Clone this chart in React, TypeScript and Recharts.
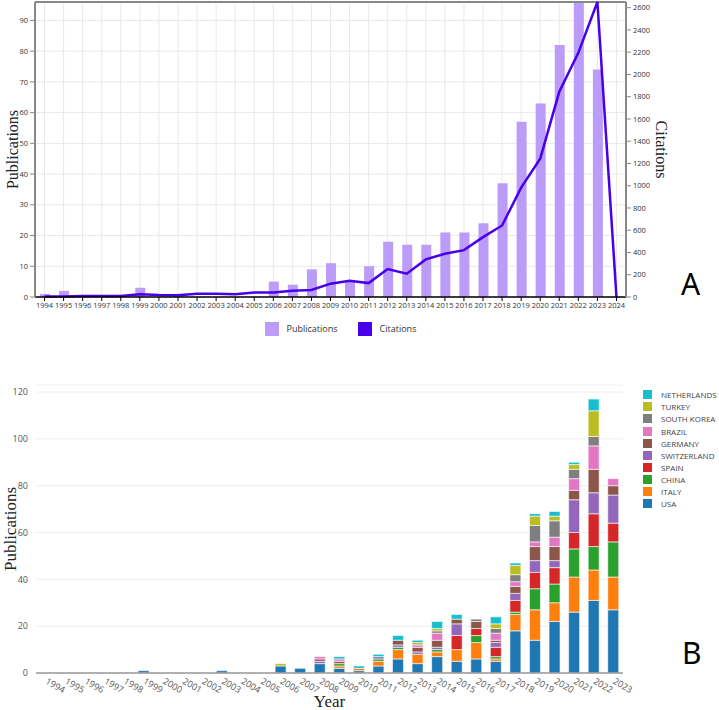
import {
  ComposedChart,
  BarChart,
  Bar,
  Line,
  XAxis,
  YAxis,
  CartesianGrid,
  Legend,
  ReferenceLine,
} from 'recharts';

// Panel A: yearly publications and citations
const yearsA = [
  '1994', '1995', '1996', '1997', '1998', '1999', '2000', '2001', '2002', '2003', '2004',
  '2005', '2006', '2007', '2008', '2009', '2010', '2011', '2012', '2013', '2014', '2015',
  '2016', '2017', '2018', '2019', '2020', '2021', '2022', '2023', '2024',
];
const publications = [
  1, 2, 0, 0, 0, 3, 0, 1, 0, 0, 0, 0, 5, 4, 9, 11, 5, 10, 18, 17, 17, 21, 21, 24, 37, 57, 63,
  82, 96, 74, 0,
];
const citations = [
  5, 5, 10, 10, 10, 25, 18, 15, 30, 30, 25, 40, 40, 57, 63, 120, 147, 125, 251, 209, 338, 389,
  421, 538, 643, 983, 1243, 1844, 2194, 2651, 0,
];
const pubTicks = [0, 10, 20, 30, 40, 50, 60, 70, 80, 90];
const citeTicks = [0, 200, 400, 600, 800, 1000, 1200, 1400, 1600, 1800, 2000, 2200, 2400, 2600];

// Panel B: publications per country, stacked
const yearsB = [
  '1994', '1995', '1996', '1997', '1998', '1999', '2000', '2001', '2002', '2003', '2004',
  '2005', '2006', '2007', '2008', '2009', '2010', '2011', '2012', '2013', '2014', '2015',
  '2016', '2017', '2018', '2019', '2020', '2021', '2022', '2023',
];
const usa = [0, 0, 0, 0, 0, 1, 0, 0, 0, 1, 0, 0, 3, 2, 4, 2, 1, 3, 6, 4, 7, 5, 6, 5, 18, 14, 22, 26, 31, 27];
const italy = [0, 0, 0, 0, 0, 0, 0, 0, 0, 0, 0, 0, 0, 0, 0, 1, 1, 2, 4, 4, 2, 5, 7, 1, 7, 13, 8, 15, 13, 14];
const china = [0, 0, 0, 0, 0, 0, 0, 0, 0, 0, 0, 0, 0, 0, 0, 1, 0, 1, 1, 0, 1, 0, 3, 1, 1, 9, 8, 12, 10, 15];
const spain = [0, 0, 0, 0, 0, 0, 0, 0, 0, 0, 0, 0, 0, 0, 0, 0, 0, 0, 0, 0, 0, 6, 3, 4, 5, 7, 7, 7, 14, 8];
const switzerland = [0, 0, 0, 0, 0, 0, 0, 0, 0, 0, 0, 0, 0, 0, 1, 0, 0, 1, 1, 1, 1, 5, 0, 2, 3, 5, 3, 14, 9, 12];
const germany = [0, 0, 0, 0, 0, 0, 0, 0, 0, 0, 0, 0, 0, 0, 1, 1, 0, 0, 2, 2, 3, 2, 3, 1, 3, 6, 6, 4, 10, 4];
const brazil = [0, 0, 0, 0, 0, 0, 0, 0, 0, 0, 0, 0, 0, 0, 1, 1, 0, 0, 0, 1, 3, 0, 0, 3, 2, 2, 4, 5, 10, 3];
const southKorea = [0, 0, 0, 0, 0, 0, 0, 0, 0, 0, 0, 0, 0, 0, 0, 0, 0, 0, 0, 0, 1, 0, 1, 2, 3, 7, 7, 4, 4, 0];
const turkey = [0, 0, 0, 0, 0, 0, 0, 0, 0, 0, 0, 0, 1, 0, 0, 0, 0, 0, 0, 1, 1, 0, 0, 2, 4, 4, 2, 2, 11, 0];
const netherlands = [0, 0, 0, 0, 0, 0, 0, 0, 0, 0, 0, 0, 0, 0, 0, 1, 1, 1, 2, 1, 3, 2, 0, 3, 1, 1, 2, 1, 5, 0];
const countryTicks = [0, 20, 40, 60, 80, 100, 120];

const countries = [
  { key: 'USA', values: usa, color: '#1f77b4' },
  { key: 'ITALY', values: italy, color: '#ff7f0e' },
  { key: 'CHINA', values: china, color: '#2ca02c' },
  { key: 'SPAIN', values: spain, color: '#d62728' },
  { key: 'SWITZERLAND', values: switzerland, color: '#9467bd' },
  { key: 'GERMANY', values: germany, color: '#8c564b' },
  { key: 'BRAZIL', values: brazil, color: '#e377c2' },
  { key: 'SOUTH KOREA', values: southKorea, color: '#7f7f7f' },
  { key: 'TURKEY', values: turkey, color: '#bcbd22' },
  { key: 'NETHERLANDS', values: netherlands, color: '#17becf' },
];

const dataA = yearsA.map((year, i) => ({ year, pubs: publications[i], cites: citations[i] }));
const dataB = yearsB.map((year, i) => {
  const row: Record<string, string | number> = { year };
  countries.forEach((c) => {
    row[c.key] = c.values[i];
  });
  return row;
});

const BAR_COLOR = '#bb9cf9';
const LINE_COLOR = '#4700e9';
const tickFont = { fontSize: 7.5, fill: '#333', fontFamily: 'Open Sans' };

function LegendA() {
  const item = (color: string, label: string) => (
    <div style={{ display: 'flex', alignItems: 'center', margin: '0 10px' }}>
      <span style={{ width: 14, height: 14, background: color, marginRight: 8 }} />
      <span style={{ fontSize: 9, color: '#333' }}>{label}</span>
    </div>
  );
  return (
    <div
      style={{
        height: 23,
        display: 'flex',
        justifyContent: 'center',
        alignItems: 'center',
        paddingLeft: 10,
        fontFamily: 'Open Sans',
      }}
    >
      {item(BAR_COLOR, 'Publications')}
      {item(LINE_COLOR, 'Citations')}
    </div>
  );
}

function LegendB() {
  return (
    <div style={{ fontFamily: 'Open Sans' }}>
      {[...countries].reverse().map((c) => (
        <div key={c.key} style={{ height: 12.15, display: 'flex', alignItems: 'center' }}>
          <span style={{ width: 9, height: 9, background: c.color, marginLeft: 3, marginRight: 9 }} />
          <span style={{ fontSize: 8, color: '#444', whiteSpace: 'nowrap' }}>{c.key}</span>
        </div>
      ))}
    </div>
  );
}

// Rotated year labels under the stacked bars
function SlantTick({ x, y, payload }: any) {
  return (
    <text
      transform={`translate(${x - 1},${y + 2}) rotate(30)`}
      textAnchor="start"
      fontSize={9}
      fill="#555"
      fontFamily="Open Sans"
    >
      {payload.value}
    </text>
  );
}

const panelLetter = { position: 'absolute' as const, fontFamily: 'Noto Sans', fontSize: 30, color: '#000' };

export default function App() {
  return (
    <div style={{ position: 'absolute', left: 0, top: 0, width: 719, height: 710, background: '#fff' }}>
      <div style={{ position: 'absolute', left: 0, top: 0 }}>
        <ComposedChart width={719} height={345} data={dataA} margin={{ top: 2, right: 48, bottom: 5, left: 0 }}>
          <CartesianGrid stroke="#e8e8e8" />
          <XAxis
            dataKey="year"
            interval={0}
            tick={tickFont}
            tickSize={4}
            height={20}
            axisLine={{ stroke: '#000', strokeWidth: 1.5 }}
            tickLine={{ stroke: '#000' }}
          />
          <YAxis
            domain={[0, 96]}
            ticks={pubTicks}
            width={35}
            tick={tickFont}
            tickSize={5}
            axisLine={{ stroke: '#888', strokeWidth: 2 }}
            tickLine={{ stroke: '#888' }}
            label={{
              value: 'Publications',
              angle: -90,
              position: 'insideLeft',
              offset: 12,
              style: { textAnchor: 'middle', fontFamily: 'Liberation Serif', fontSize: 16, fill: '#222' },
            }}
          />
          <YAxis
            yAxisId="right"
            orientation="right"
            domain={[0, 2651]}
            ticks={citeTicks}
            width={45}
            tick={tickFont}
            tickSize={5}
            axisLine={{ stroke: '#888', strokeWidth: 2 }}
            tickLine={{ stroke: '#888' }}
            label={{
              value: 'Citations',
              angle: 90,
              position: 'insideRight',
              offset: 9,
              style: { textAnchor: 'middle', fontFamily: 'Liberation Serif', fontSize: 16, fill: '#222' },
            }}
          />
          <ReferenceLine y={96} stroke="#888" strokeWidth={2} />
          <Bar dataKey="pubs" name="Publications" fill={BAR_COLOR} barSize={10} isAnimationActive={false} />
          <Line
            yAxisId="right"
            type="linear"
            dataKey="cites"
            name="Citations"
            stroke={LINE_COLOR}
            strokeWidth={2.5}
            dot={false}
            isAnimationActive={false}
          />
          <Legend verticalAlign="bottom" content={<LegendA />} />
        </ComposedChart>
      </div>

      <div style={{ position: 'absolute', left: 0, top: 380 }}>
        <BarChart
          width={719}
          height={330}
          data={dataB}
          barCategoryGap="22%"
          margin={{ top: 5, right: 17, bottom: 0, left: 0 }}
        >
          <CartesianGrid stroke="#eee" vertical={false} />
          <XAxis
            dataKey="year"
            interval={0}
            height={37}
            tick={<SlantTick />}
            tickLine={false}
            axisLine={{ stroke: '#999', strokeWidth: 1.5 }}
            label={{
              value: 'Year',
              position: 'insideBottom',
              offset: 3,
              style: { fontFamily: 'Liberation Serif', fontSize: 17, fill: '#222' },
            }}
          />
          <YAxis
            domain={[0, 123]}
            ticks={countryTicks}
            width={36}
            axisLine={false}
            tickLine={false}
            tick={{ fontSize: 9, fill: '#555', fontFamily: 'Open Sans' }}
            label={{
              value: 'Publications',
              angle: -90,
              position: 'insideLeft',
              offset: 10,
              style: { textAnchor: 'middle', fontFamily: 'Liberation Serif', fontSize: 17, fill: '#222' },
            }}
          />
          {countries.map((c) => (
            <Bar
              key={c.key}
              dataKey={c.key}
              stackId="country"
              fill={c.color}
              stroke="#fff"
              strokeWidth={0.6}
              isAnimationActive={false}
            />
          ))}
          <Legend
            layout="vertical"
            align="right"
            verticalAlign="top"
            content={<LegendB />}
            wrapperStyle={{ left: 640, right: 'auto', top: 8.6, width: 79 }}
          />
        </BarChart>
      </div>

      <div style={{ ...panelLetter, left: 681, top: 263 }}>A</div>
      <div style={{ ...panelLetter, left: 682, top: 632 }}>B</div>
    </div>
  );
}
